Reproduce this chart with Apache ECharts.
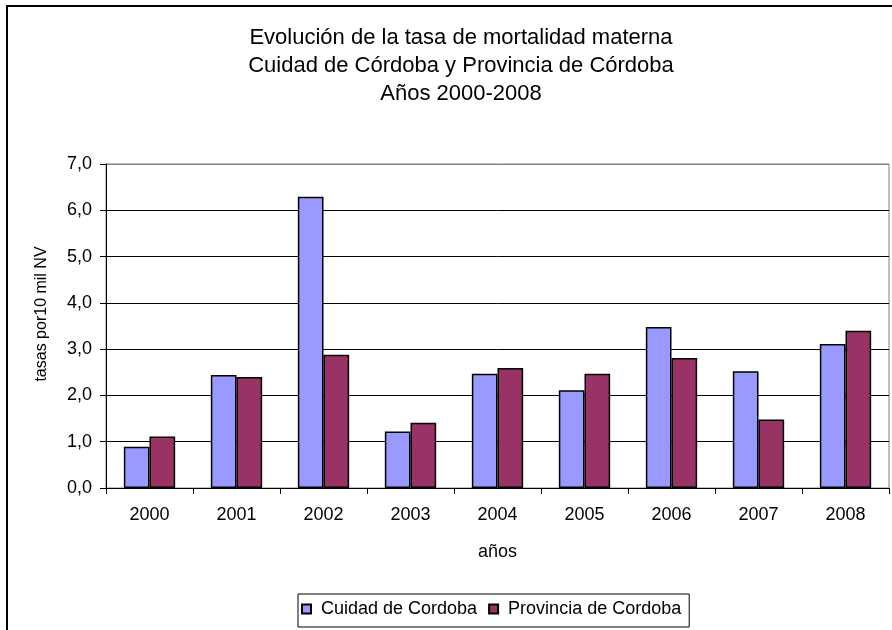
<!DOCTYPE html>
<html>
<head>
<meta charset="utf-8">
<script src="https://cdn.jsdelivr.net/npm/echarts@6/dist/echarts.min.js"></script>
<style>
html,body{margin:0;padding:0;background:#fff;}
#chart{width:892px;height:630px;}
</style>
</head>
<body>
<div id="chart"></div>
<script>
var titleLines = ['Evolución de la tasa de mortalidad materna', 'Cuidad de Córdoba y Provincia de Córdoba', 'Años 2000-2008'];
var categories = ['2000', '2001', '2002', '2003', '2004', '2005', '2006', '2007', '2008'];
var seriesNames = ['Cuidad de Cordoba', 'Provincia de Cordoba'];
var ciudad = [0.89, 2.44, 6.29, 1.22, 2.47, 2.11, 3.48, 2.52, 3.11];
var provincia = [1.11, 2.40, 2.88, 1.41, 2.59, 2.47, 2.81, 1.48, 3.40];
var yTickLabels = ['0,0', '1,0', '2,0', '3,0', '4,0', '5,0', '6,0', '7,0'];
var xAxisName = 'años';
var yAxisName = 'tasas por10 mil NV';

var FONT = "'Liberation Sans', Arial, sans-serif";
var chart = echarts.init(document.getElementById('chart'));
var titleGraphics = titleLines.map(function (t, i) {
  return {
    type: 'text', x: 461, y: 38 + i * 28,
    style: { text: t, fill: '#000', font: '22px ' + FONT, textAlign: 'center', textVerticalAlign: 'middle' }
  };
});
chart.setOption({
  animation: false,
  textStyle: { fontFamily: FONT },
  graphic: [{
    type: 'rect', shape: { x: 7, y: 6, width: 1000, height: 1000 },
    style: { fill: 'none', stroke: '#000', lineWidth: 2 }, silent: true
  }].concat(titleGraphics),
  grid: { left: 106, right: 3, top: 164, bottom: 142, containLabel: false, show: true, borderColor: '#808080', borderWidth: 1 },
  legend: {
    data: seriesNames, left: 298, top: 594, orient: 'horizontal',
    backgroundColor: '#fff', borderColor: '#000', borderWidth: 1,
    padding: [6, 8, 9, 3], itemGap: 11, itemWidth: 9, itemHeight: 9, icon: 'rect',
    textStyle: { fontSize: 18, color: '#000', fontFamily: FONT, padding: [0, 0, 0, 5] }
  },
  xAxis: {
    type: 'category', data: categories,
    name: xAxisName, nameLocation: 'middle', nameGap: 55,
    nameTextStyle: { fontSize: 18, color: '#000', fontFamily: FONT },
    axisLine: { lineStyle: { color: '#000', width: 1 } },
    axisTick: { show: true, length: 6, lineStyle: { color: '#000' } },
    axisLabel: { fontSize: 18, color: '#000', margin: 18, fontFamily: FONT }
  },
  yAxis: {
    type: 'value', min: 0, max: 7, interval: 1,
    name: yAxisName, nameLocation: 'middle', nameGap: 56, nameRotate: 90,
    nameTextStyle: { fontSize: 16, color: '#000', fontFamily: FONT, padding: [0, 0, 0, 24] },
    axisLine: { show: true, lineStyle: { color: '#000', width: 1 } },
    axisTick: { show: true, length: 6, lineStyle: { color: '#000' } },
    axisLabel: { fontSize: 18, color: '#000', margin: 14, fontFamily: FONT,
      formatter: function (v) { return yTickLabels[Math.round(v)]; } },
    splitLine: { show: true, lineStyle: { color: ['#000', '#000', '#000', '#000', '#000', '#000', '#000', '#808080'], width: 1 } }
  },
  series: [{
    name: seriesNames[0], type: 'bar', data: ciudad,
    barGap: '0%', barCategoryGap: '41%',
    itemStyle: { color: '#9999FF', borderColor: '#000', borderWidth: 1.5 }
  }, {
    name: seriesNames[1], type: 'bar', data: provincia,
    itemStyle: { color: '#993366', borderColor: '#000', borderWidth: 1.5 }
  }]
});
</script>
</body>
</html>
